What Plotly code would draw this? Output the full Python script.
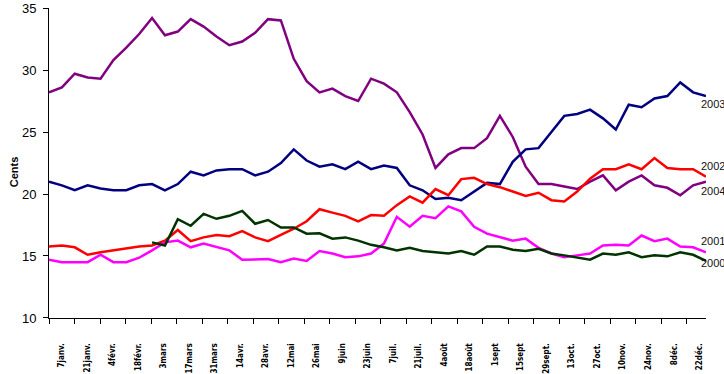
import plotly.graph_objects as go

# ---------------- data ----------------
WEEKS = list(range(52))

TICK_LABELS = ["7janv.", "21janv.", "4févr.", "18févr.", "3mars", "17mars", "31mars",
               "14avr.", "28avr.", "12mai", "26mai", "9juin", "23juin", "7juil.",
               "21juil.", "4août", "18août", "1sept", "15sept", "29sept.", "13oct.",
               "27oct.", "10nov.", "24nov.", "8déc.", "22déc."]

S2004 = [28.2, 28.6, 29.7, 29.4, 29.3, 30.8, 31.8, 32.9, 34.2, 32.8,
         33.1, 34.1, 33.5, 32.7, 32.0, 32.3, 33.0, 34.1, 34.0, 30.9,
         29.1, 28.2, 28.5, 27.9, 27.5, 29.3, 28.9, 28.2, 26.6, 24.8,
         22.1, 23.2, 23.7, 23.7, 24.5, 26.3, 24.6, 22.2, 20.8, 20.8,
         20.6, 20.4, 21.0, 21.5, 20.3, 21.0, 21.5, 20.7, 20.5, 19.9,
         20.7, 21.0]

S2003 = [21.0, 20.7, 20.3, 20.7, 20.45, 20.3, 20.3, 20.7, 20.8, 20.3,
         20.8, 21.8, 21.5, 21.9, 22.0, 22.0, 21.5, 21.8, 22.5, 23.6,
         22.7, 22.2, 22.4, 22.0, 22.6, 22.0, 22.3, 22.1, 20.7, 20.3,
         19.6, 19.7, 19.5, 20.2, 20.9, 20.8, 22.6, 23.6, 23.7, 25.0,
         26.3, 26.45, 26.8, 26.1, 25.2, 27.2, 27.0, 27.7, 27.9, 29.0,
         28.2, 27.9]

S2002 = [15.77, 15.85, 15.7, 15.1, 15.3, 15.45, 15.66, 15.77, 15.85, 16.24,
         17.1, 16.2, 16.5, 16.7, 16.6, 17.0, 16.5, 16.2, 16.7, 17.2,
         17.8, 18.77, 18.5, 18.24, 17.8, 18.3, 18.24, 19.1, 19.8, 19.3,
         20.4, 19.9, 21.2, 21.3, 20.8, 20.55, 20.2, 19.85, 20.1, 19.5,
         19.4, 20.2, 21.24, 22.0, 22.0, 22.4, 22.0, 22.9, 22.1, 22.0,
         22.0, 21.4]

S2001 = [14.7, 14.5, 14.5, 14.5, 15.1, 14.5, 14.5, 14.86, 15.45, 16.1,
         16.24, 15.7, 16.0, 15.7, 15.45, 14.7, 14.75, 14.75, 14.5, 14.8,
         14.6, 15.4, 15.2, 14.9, 14.97, 15.2, 16.0, 18.16, 17.36, 18.24,
         18.05, 19.0, 18.6, 17.36, 16.8, 16.5, 16.24, 16.4, 15.66, 15.2,
         14.9, 15.05, 15.2, 15.85, 15.9, 15.85, 16.65, 16.2, 16.4, 15.77,
         15.7, 15.3]

S2000 = [None] * 8 + [16.1, 15.85,
         17.97, 17.44, 18.4, 18.0, 18.24, 18.64, 17.6, 17.9, 17.3, 17.3,
         16.8, 16.83, 16.4, 16.5, 16.24, 15.9, 15.7, 15.45, 15.66, 15.4,
         15.3, 15.2, 15.4, 15.1, 15.77, 15.77, 15.5, 15.4, 15.58, 15.2,
         15.05, 14.86, 14.7, 15.2, 15.1, 15.3, 14.9, 15.05, 14.97, 15.3,
         15.1, 14.6]

SERIES_NAMES = ["2004", "2003", "2002", "2001", "2000"]
SERIES_VALUES = [S2004, S2003, S2002, S2001, S2000]

Y_TICKS = [10, 15, 20, 25, 30, 35]

# ---------------- style ----------------
COLORS = {"2004": "#800080", "2003": "#000080", "2002": "#FF0000",
          "2001": "#FF00FF", "2000": "#003300"}
LABEL_YSHIFT = {"2003": -8, "2002": 11, "2004": -9, "2001": 11, "2000": -2}

CAT_SPAN = 1.98  # width of one labelled category in week units
tick_pos = [k * CAT_SPAN for k in range(len(TICK_LABELS))]
label_pos = [t + CAT_SPAN / 2 for t in tick_pos]

fig = go.Figure()
for name, vals in zip(SERIES_NAMES, SERIES_VALUES):
    fig.add_trace(go.Scatter(x=WEEKS, y=vals, mode="lines", name=name,
                             line=dict(color=COLORS[name], width=2.5),
                             connectgaps=False, cliponaxis=False))
    last = [v for v in vals if v is not None][-1]
    fig.add_annotation(x=WEEKS[-1], y=last, text=name, showarrow=False,
                       xanchor="left", yanchor="middle", xshift=-7,
                       yshift=LABEL_YSHIFT[name],
                       font=dict(family="Liberation Sans, Arial, sans-serif",
                                 size=11, color="#111111"))

fig.add_annotation(xref="paper", yref="paper", x=0, y=0.47, xshift=-43,
                   text="<b>Cents</b>", textangle=-90, showarrow=False,
                   font=dict(family="Liberation Sans, Arial, sans-serif",
                             size=11, color="#000000"))

fig.update_layout(
    width=724, height=374,
    margin=dict(l=49, r=18, t=8, b=56, autoexpand=False),
    paper_bgcolor="white", plot_bgcolor="white",
    showlegend=False,
    font=dict(family="Liberation Sans, Arial, sans-serif", color="#000000"),
)
fig.update_xaxes(
    range=[0, 51], showgrid=False, zeroline=False, automargin=False,
    showline=True, linecolor="black", linewidth=1,
    tickmode="array", tickvals=label_pos, ticktext=TICK_LABELS,
    ticks="", tickangle=-90, ticklabelstandoff=21,
    tickfont=dict(family="Liberation Sans Narrow, DejaVu Sans Condensed, Arial Narrow, sans-serif",
                  size=8, color="#000000", weight="bold"),
    minor=dict(tickmode="array", tickvals=tick_pos, ticks="outside",
               ticklen=5, tickcolor="black", tickwidth=1, showgrid=False),
)
fig.update_yaxes(
    range=[9.999, 35.001], showgrid=False, zeroline=False, automargin=False,
    showline=True, linecolor="black", linewidth=1,
    tickmode="array", tickvals=Y_TICKS,
    ticks="outside", ticklen=5, tickcolor="black",
    ticklabelstandoff=4, ticklabeloverflow="allow",
    tickfont=dict(family="Liberation Sans, Arial, sans-serif", size=13, color="#000000"),
)

fig.write_html("out.html",
               config={"displayModeBar": False},
               post_script="document.body.style.margin='0';document.body.style.overflow='hidden';")
